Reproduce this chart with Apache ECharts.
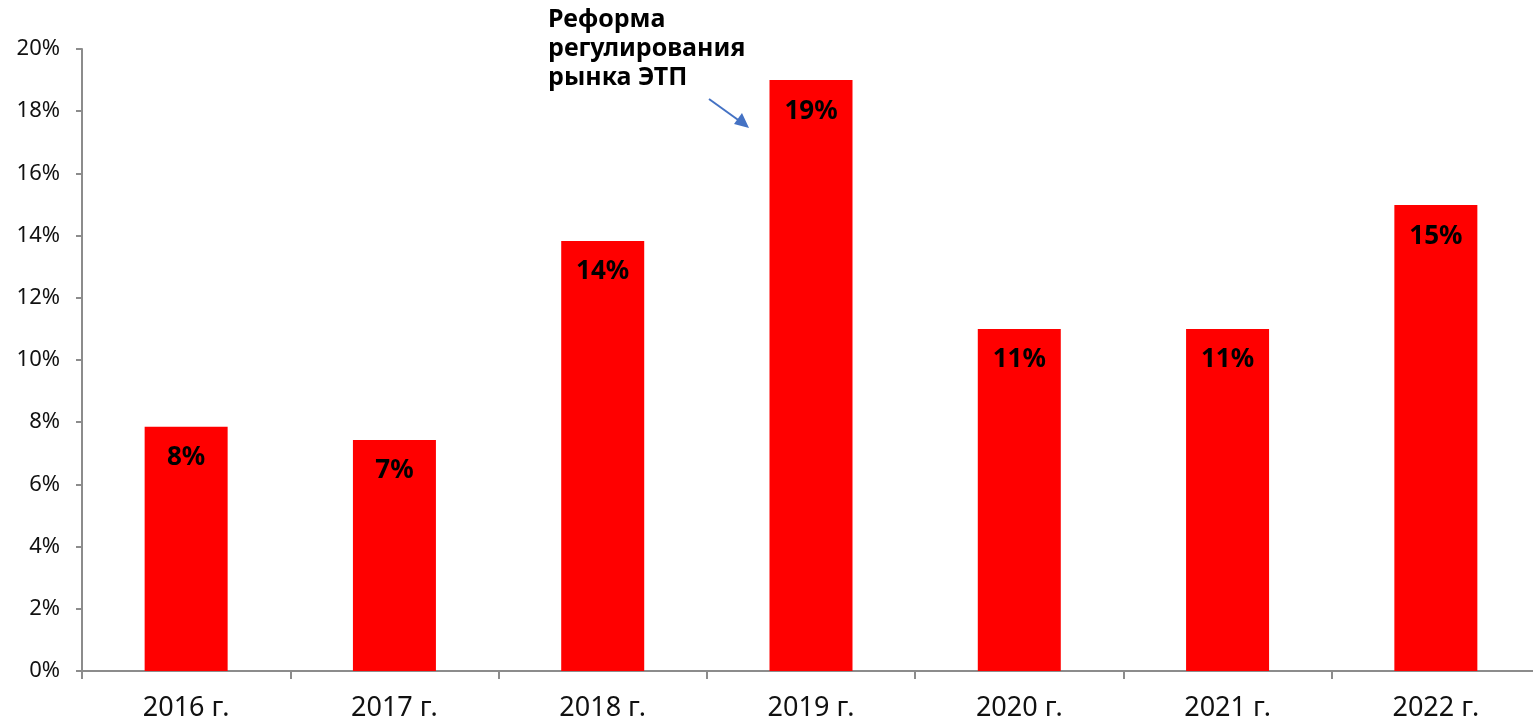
<!DOCTYPE html>
<html><head><meta charset="utf-8">
<script src="https://cdn.jsdelivr.net/npm/echarts@6/dist/echarts.min.js"></script>
<style>html,body{margin:0;padding:0;background:#fff;overflow:hidden;width:1533px;height:723px}#c{width:1540px;height:723px}</style>
</head><body><div id="c"></div>
<script>
const categories = ['2016 г.', '2017 г.', '2018 г.', '2019 г.', '2020 г.', '2021 г.', '2022 г.'];
const values = [7.85, 7.43, 13.83, 19.0, 11.0, 11.0, 14.98];
const yTicks = [0, 2, 4, 6, 8, 10, 12, 14, 16, 18, 20];
const annotationLines = ['Реформа', 'регулирования', 'рынка ЭТП'];

const FONT = 'Noto Sans';
const chart = echarts.init(document.getElementById('c'));
chart.setOption({
  animation: false,
  grid: { left: 82, right: 0, top: 49, bottom: 52, containLabel: false },
  xAxis: {
    type: 'category', data: categories,
    axisLine: { lineStyle: { color: '#8c8c8c', width: 2 } },
    axisTick: { show: true, length: 8, lineStyle: { color: '#8c8c8c', width: 2 } },
    axisLabel: { color: '#111', fontSize: 27, fontFamily: FONT, margin: 24 }
  },
  yAxis: {
    type: 'value', min: yTicks[0], max: yTicks[yTicks.length - 1], interval: 2,
    axisLine: { show: true, lineStyle: { color: '#8c8c8c', width: 2 } },
    axisTick: { show: true, length: 6, lineStyle: { color: '#8c8c8c', width: 2 } },
    splitLine: { show: false },
    axisLabel: { color: '#111', fontSize: 22, fontFamily: FONT, margin: 22, formatter: v => v + '%' }
  },
  series: [{
    type: 'bar', data: values, barWidth: 83,
    itemStyle: { color: '#ff0000' },
    label: {
      show: true, position: 'insideTop', distance: 18,
      color: '#000', fontSize: 26, fontWeight: 'bold', fontFamily: FONT,
      formatter: p => Math.round(p.value) + '%'
    }
  }],
  graphic: [
    { type: 'text', left: 548, top: 5,
      style: { text: annotationLines.join('\n'), fontSize: 25, fontWeight: 'bold', fontFamily: FONT, fill: '#000', lineHeight: 29 } },
    { type: 'line', shape: { x1: 709, y1: 99, x2: 741, y2: 122 }, style: { stroke: '#4472c4', lineWidth: 2 } },
    { type: 'polygon', shape: { points: [[749, 128], [734, 124], [742, 113]] }, style: { fill: '#4472c4' } }
  ]
});
</script></body></html>
